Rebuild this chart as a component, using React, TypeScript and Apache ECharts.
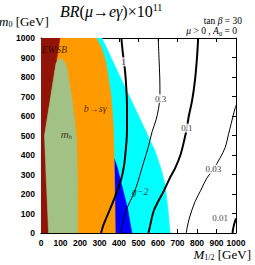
import React, { useEffect, useRef } from "react";
import * as echarts from "echarts";

// ---------- data (GeV) ----------
const tickValues = [0, 100, 200, 300, 400, 500, 600, 700, 800, 900, 1000];

const cyanRegion: number[][] = [
  [0, 0], [662, 0], [650, 130], [636, 250], [615, 330], [585, 420], [534, 530],
  [420, 770], [312, 1000], [0, 1000],
];
const blueRegion: number[][] = [
  [370, 0], [466, 0], [455, 60], [445, 120], [425, 200], [405, 280], [390, 340],
  [376, 380], [370, 380],
];
const orangeRegion: number[][] = [
  [0, 0], [381, 0], [378, 250], [372, 530], [360, 700], [345, 800], [334, 872],
  [310, 950], [283, 1000], [0, 1000],
];
const redRegion: number[][] = [
  [0, 0], [41, 0], [30, 250], [20, 500], [97, 1000], [0, 1000],
];
const greenRegion: number[][] = [
  [39, 0], [188, 0], [187, 300], [182, 480], [172, 580], [160, 680], [145, 770],
  [135, 840], [122, 875], [110, 890], [100, 895], [90, 889], [77, 870],
  [18, 500], [28, 250],
];

const contour1: number[][] = [
  [308, 0], [320, 40], [346, 103], [380, 187], [410, 272], [425, 340], [436, 440],
  [441, 530], [441, 650], [437, 750], [430, 840], [420, 920], [412, 1000],
];
const contour03: number[][] = [
  [410, 0], [432, 103], [483, 221], [525, 358], [550, 440], [570, 520], [590, 580],
  [603, 640], [610, 700], [609, 800], [605, 900], [601, 1000],
];
const contour01: number[][] = [
  [551, 0], [560, 40], [577, 110], [600, 160], [628, 212], [660, 280], [688, 333],
  [715, 400], [735, 478], [748, 538], [758, 600], [775, 680], [790, 787], [800, 900],
  [806, 1000],
];
const contour003: number[][] = [
  [745, 0], [750, 30], [761, 77], [790, 161], [820, 220], [850, 281], [884, 327],
  [918, 384], [945, 440], [961, 504], [975, 560], [990, 620], [1000, 655],
];
const contour001: number[][] = [
  [982, 0], [986, 25], [992, 50], [1000, 75],
];

const contourLabelText = ["1", "0.3", "0.1", "0.03", "0.01"];
const contourLabelX = [423, 614, 748, 884, 918];
const contourLabelY = [878, 689, 538, 327, 75];

const SERIF = '"Liberation Serif", "DejaVu Serif", serif';
const SANS = '"Liberation Sans", Arial, sans-serif';

function region(pts: number[][], color: string) {
  return {
    type: "custom",
    coordinateSystem: "cartesian2d",
    silent: true,
    clip: true,
    data: [pts[0]],
    renderItem: (_p: any, api: any) => ({
      type: "polygon",
      shape: { points: pts.map((p) => api.coord(p)) },
      style: { fill: color, stroke: color, lineWidth: 0.6 },
    }),
    z: 1,
  };
}

function contour(pts: number[][], width: number) {
  return {
    type: "line",
    data: pts,
    smooth: 0.35,
    symbol: "none",
    silent: true,
    clip: true,
    lineStyle: { color: "#000", width },
    z: 3,
  };
}

export default function App() {
  const ref = useRef<HTMLDivElement>(null);
  useEffect(() => {
    if (!ref.current) return;
    const chart = echarts.init(ref.current, null, { renderer: "svg" });
    const axisCommon = {
      type: "value",
      min: 0,
      max: 1000,
      interval: 100,
      splitLine: { show: false },
      axisLine: { show: true, onZero: false, lineStyle: { color: "#000", width: 1 } },
      axisTick: { show: true, inside: true, length: 4, lineStyle: { color: "#000", width: 1 } },
    };
    const labelStyle = {
      color: "#000",
      fontFamily: SANS,
      fontSize: 8.5,
      fontWeight: "bold",
      formatter: (v: number) => (tickValues.includes(v) ? String(v) : ""),
    };
    chart.setOption({
      animation: false,
      backgroundColor: "#fff",
      grid: { left: 41, top: 38, width: 195, height: 195, outerBoundsMode: "none", containLabel: false },
      xAxis: [
        { ...axisCommon, position: "bottom", axisLabel: { ...labelStyle, margin: 5 } },
        { ...axisCommon, position: "top", axisLabel: { show: false } },
      ],
      yAxis: [
        { ...axisCommon, position: "left", axisLabel: { ...labelStyle, margin: 6 } },
        { ...axisCommon, position: "right", axisLabel: { show: false } },
      ],
      series: [
        region(cyanRegion, "#00ffff"),
        region(blueRegion, "#0000ff"),
        region(orangeRegion, "#ff9a00"),
        region(redRegion, "#921408"),
        region(greenRegion, "#a2c184"),
        contour(contour1, 2),
        contour(contour03, 1),
        contour(contour01, 2),
        contour(contour003, 1),
        contour(contour001, 2),
        {
          type: "scatter",
          symbolSize: 0,
          silent: true,
          z: 6,
          data: contourLabelText.map((t, i) => ({
            value: [contourLabelX[i], contourLabelY[i]],
            label: { formatter: t },
          })),
          label: {
            show: true,
            position: "inside",
            fontFamily: SERIF,
            fontSize: 9,
            color: "#000",
            backgroundColor: "#fff",
            padding: [0, 1],
          },
        },
        {
          type: "scatter",
          symbolSize: 0,
          silent: true,
          z: 6,
          data: [
            { value: [68, 941], label: { formatter: "EWSB" } },
            { value: [278, 641], label: { formatter: "b→sγ" } },
            { value: [508, 212], label: { formatter: "g−2" } },
            { value: [130, 507], label: { formatter: "{a|m}{b|h}" } },
          ],
          label: {
            show: true,
            position: "inside",
            fontFamily: SERIF,
            fontStyle: "italic",
            fontSize: 10,
            color: "#1a0800",
            rich: {
              a: { fontFamily: SERIF, fontStyle: "italic", fontSize: 11, color: "#1a0800" },
              b: { fontFamily: SERIF, fontStyle: "italic", fontSize: 7, color: "#1a0800", verticalAlign: "bottom", padding: [6, 0, 0, 0] },
            },
          },
        },
      ],
      graphic: [
        {
          type: "text",
          x: 60,
          y: 11,
          style: {
            text: "{i|BR}{n|(}{i|μ→eγ}{n|)×10}{s|11}",
            verticalAlign: "middle",
            rich: {
              i: { fontFamily: SERIF, fontStyle: "italic", fontSize: 16, fill: "#000" },
              n: { fontFamily: SERIF, fontSize: 16, fill: "#000" },
              s: { fontFamily: SERIF, fontSize: 10, fill: "#000", verticalAlign: "top", padding: [0, 0, 8, 0] },
            },
          },
        },
        {
          type: "text",
          x: -1,
          y: 21,
          style: {
            text: "{i|m}{s|0}{n| [GeV]}",
            verticalAlign: "middle",
            rich: {
              i: { fontFamily: SERIF, fontStyle: "italic", fontSize: 13, fill: "#000" },
              n: { fontFamily: SERIF, fontSize: 13, fill: "#000" },
              s: { fontFamily: SERIF, fontSize: 8, fill: "#000", verticalAlign: "bottom", padding: [6, 0, 0, 0] },
            },
          },
        },
        {
          type: "text",
          x: 242,
          y: 21,
          style: {
            text: "{n|tan}{i| β}{n| = 30}",
            align: "right",
            verticalAlign: "middle",
            rich: {
              i: { fontFamily: SERIF, fontStyle: "italic", fontSize: 9.5, fill: "#000" },
              n: { fontFamily: SERIF, fontSize: 9.5, fill: "#000" },
            },
          },
        },
        {
          type: "text",
          x: 237,
          y: 31,
          style: {
            text: "{i|μ}{n| > 0 , }{i|A}{s|0}{n| = 0}",
            align: "right",
            verticalAlign: "middle",
            rich: {
              i: { fontFamily: SERIF, fontStyle: "italic", fontSize: 9.5, fill: "#000" },
              n: { fontFamily: SERIF, fontSize: 9.5, fill: "#000" },
              s: { fontFamily: SERIF, fontSize: 6.5, fill: "#000", verticalAlign: "bottom", padding: [5, 0, 0, 0] },
            },
          },
        },
        {
          type: "text",
          x: 251,
          y: 254,
          style: {
            text: "{i|M}{s|1/2}{n| [GeV]}",
            align: "right",
            verticalAlign: "middle",
            rich: {
              i: { fontFamily: SERIF, fontStyle: "italic", fontSize: 13, fill: "#000" },
              n: { fontFamily: SERIF, fontSize: 13, fill: "#000" },
              s: { fontFamily: SERIF, fontSize: 8, fill: "#000", verticalAlign: "bottom", padding: [6, 0, 0, 0] },
            },
          },
        },
      ],
    });
    return () => chart.dispose();
  }, []);
  return (
    <div
      ref={ref}
      style={{ position: "absolute", left: 0, top: 0, width: 255, height: 265 }}
    />
  );
}
